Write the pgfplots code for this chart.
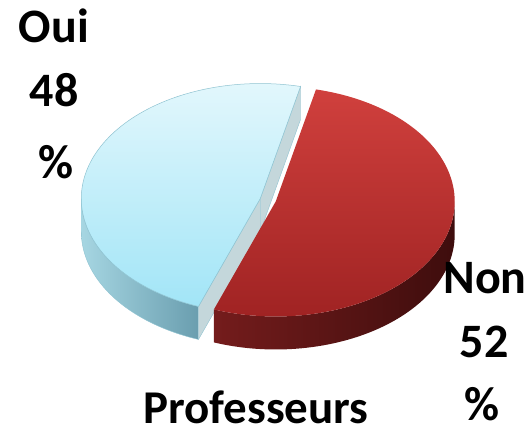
\documentclass[border=0pt]{standalone}
\usepackage{pgfplots}
\pgfplotsset{compat=1.18}
\usepackage{fontspec}
\setmainfont{Carlito}

\definecolor{bluetopA}{HTML}{E2F7FC}
\definecolor{bluetopB}{HTML}{A2E5F7}
\definecolor{bluesideA}{HTML}{A6D6E2}
\definecolor{bluesideB}{HTML}{6A9EAF}
\definecolor{blueface}{HTML}{C4D7DB}
\definecolor{blueedge}{HTML}{8FC3D1}
\definecolor{redtopA}{HTML}{D0403D}
\definecolor{redtopB}{HTML}{A02323}
\definecolor{redsideA}{HTML}{741C1C}
\definecolor{redsideB}{HTML}{3E0D0D}

% data (percent)
\def\oui{48}
\def\non{52}

% geometry (pixels)
\def\cx{268}
\def\cy{200}
\def\R{179}
\def\K{115}
\def\H{33}
\def\startang{77}
\def\expl{0.045}

\pgfmathsetmacro\midang{\startang+1.8*\oui}
\pgfmathsetmacro\endang{\startang+3.6*\oui}
\pgfmathsetmacro\redend{\endang+3.6*\non}
\pgfmathsetmacro\bex{\R*\expl*cos(\midang)}
\pgfmathsetmacro\bey{-\K*\expl*sin(\midang)}
\pgfmathsetmacro\rex{-\bex}
\pgfmathsetmacro\rey{-\bey}

\newcommand{\sector}[5]{%
\addplot[#1, domain=0:3, samples=301, variable=\t]
 ({\cx + #4 + \R*min(min(\t,1),3-\t)*cos(#2+(#3-#2)*min(max(\t-1,0),1))},
  {\cy + #5 - \K*min(min(\t,1),3-\t)*sin(#2+(#3-#2)*min(max(\t-1,0),1))});
}
\newcommand{\wall}[5]{%
\addplot[#1, domain=0:3, samples=301, variable=\t]
 ({\cx + #4 + \R*cos(#2+(#3-#2)*(min(\t,1)-max(\t-2,0)))},
  {\cy + #5 - \K*sin(#2+(#3-#2)*(min(\t,1)-max(\t-2,0))) + \H*min(max(\t-1,0),1)});
}
\newcommand{\face}[4]{%
\addplot[#1, domain=0:3, samples=4, variable=\t]
 ({\cx + #3 + \R*min(min(\t,1),3-\t)*cos(#2)},
  {\cy + #4 - \K*min(min(\t,1),3-\t)*sin(#2) + \H*min(max(\t-1,0),1)}) -- cycle;
}

\begin{document}
\begin{tikzpicture}[lbl/.style={font=\fontsize{48}{56}\selectfont\bfseries, anchor=base, inner sep=0pt}]
\begin{axis}[hide axis, scale only axis, width=531pt, height=431pt,
  xmin=0, xmax=531, ymin=0, ymax=431, y dir=reverse, clip=false]
\path (axis cs:0,0) rectangle (axis cs:531,431);
% Oui slice (blue)
\wall{draw=blueedge, line width=0.4pt, left color=bluesideA, right color=bluesideB}{180}{\endang}{\bex}{\bey}
\face{draw=blueedge, line width=0.4pt, fill=blueface}{\startang}{\bex}{\bey}
\face{draw=blueedge, line width=0.4pt, fill=blueface}{\endang}{\bex}{\bey}
\sector{draw=blueedge, line width=0.5pt, top color=bluetopA, bottom color=bluetopB}{\startang}{\endang}{\bex}{\bey}
% Non slice (red)
\wall{draw=none, left color=redsideA, right color=redsideB}{\endang}{360}{\rex}{\rey}
\sector{draw=none, top color=redtopA, bottom color=redtopB}{\endang}{\redend}{\rex}{\rey}
% labels
\node[lbl] at (axis cs:54,42) {Oui};
\node[lbl] at (axis cs:54,106) {48};
\node[lbl] at (axis cs:56,178) {\%};
\node[lbl] at (axis cs:485,293) {Non};
\node[lbl] at (axis cs:484,357) {52};
\node[lbl] at (axis cs:482,420) {\%};
\node[lbl, font=\fontsize{47}{56}\selectfont\bfseries] at (axis cs:256,423) {Professeurs};
\end{axis}
\end{tikzpicture}
\end{document}
